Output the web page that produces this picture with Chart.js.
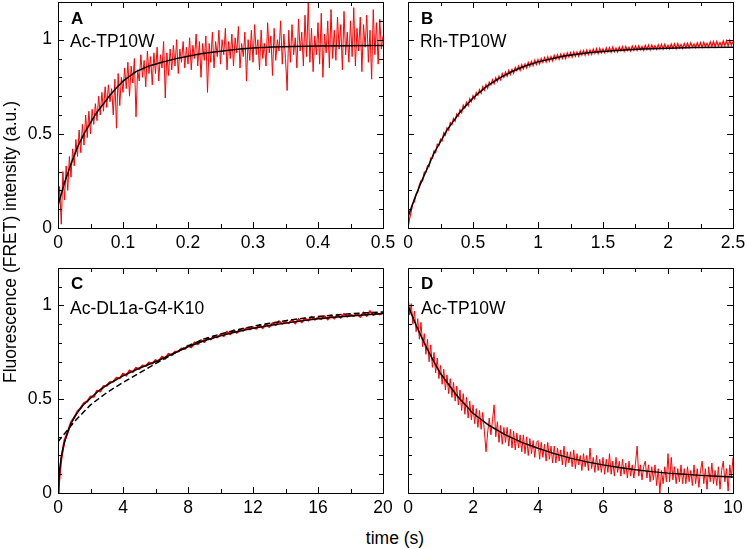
<!DOCTYPE html>
<html>
<head>
<meta charset="utf-8">
<script src="https://cdn.jsdelivr.net/npm/chart.js@4.4.0/dist/chart.umd.min.js"></script>
<style>
  body { margin: 0; background: #fff; }
  #fig { position: relative; width: 747px; height: 549px; font-family: "Liberation Sans", Arial, sans-serif; color: #000; }
  .panel { position: absolute; }
  .txt { position: absolute; font-size: 17.5px; line-height: 18px; white-space: nowrap; }
  .let { position: absolute; font-size: 17px; line-height: 17px; font-weight: bold; }
</style>
</head>
<body>
<div id="fig">
  <div class="panel" style="left:0;top:0;width:400px;height:258px"><canvas id="chartA"></canvas></div>
  <div class="panel" style="left:395px;top:0;width:352px;height:258px"><canvas id="chartB"></canvas></div>
  <div class="panel" style="left:0;top:258px;width:400px;height:262px"><canvas id="chartC"></canvas></div>
  <div class="panel" style="left:395px;top:258px;width:352px;height:262px"><canvas id="chartD"></canvas></div>

  <div class="let" style="left:71px;top:10px">A</div>
  <div class="txt" style="left:70px;top:32px">Ac-TP10W</div>
  <div class="let" style="left:421px;top:10px">B</div>
  <div class="txt" style="left:420px;top:32px">Rh-TP10W</div>
  <div class="let" style="left:71px;top:275px">C</div>
  <div class="txt" style="left:70px;top:299px">Ac-DL1a-G4-K10</div>
  <div class="let" style="left:421px;top:275px">D</div>
  <div class="txt" style="left:421px;top:299px">Ac-TP10W</div>

  <div class="txt" style="left:10px;top:242px;transform:translate(-50%,-50%) rotate(-90deg)">Fluorescence (FRET) intensity (a.u.)</div>
  <div class="txt" style="left:395px;top:538px;transform:translate(-50%,-50%)">time (s)</div>
</div>

<script>
// Panel A: Ac-TP10W, 0 - 0.5 s, sampled every 2.5 ms
const dtA = 0.0025;
const rawA = [
  0.05,0.22,0.02,0.30,0.15,0.33,0.20,0.38,0.27,0.42,
  0.33,0.47,0.38,0.52,0.40,0.55,0.44,0.60,0.48,0.62,
  0.50,0.63,0.55,0.66,0.57,0.70,0.60,0.72,0.62,0.75,
  0.64,0.76,0.67,0.74,0.60,0.79,0.53,0.82,0.65,0.80,
  0.72,0.85,0.74,0.88,0.70,0.86,0.77,0.90,0.59,0.84,
  0.78,0.92,0.80,0.89,0.75,0.94,0.82,0.91,0.76,0.93,
  0.82,0.96,0.78,0.92,0.85,0.99,0.69,0.93,0.81,0.95,
  0.84,0.97,0.86,1.00,0.82,0.95,0.88,0.99,0.85,0.96,
  0.87,1.01,0.84,0.97,0.90,1.03,0.86,0.99,0.80,0.98,
  0.89,1.02,0.72,0.98,0.88,1.04,0.85,0.99,0.91,1.05,
  0.87,1.00,0.92,1.06,0.84,0.99,0.90,1.03,0.86,1.01,
  0.93,1.07,0.85,0.98,0.91,1.04,0.78,1.00,0.89,1.05,
  0.88,1.08,0.92,1.00,0.84,1.05,0.90,0.98,0.86,1.09,
  0.93,1.02,0.81,1.06,0.89,1.00,0.94,1.10,0.87,1.03,
  0.90,0.73,1.05,0.88,1.08,0.92,1.01,0.85,1.11,0.94,
  1.04,0.86,1.13,0.91,1.20,0.88,1.06,0.83,1.02,0.92,
  1.09,0.87,1.14,0.80,1.03,0.93,1.10,0.85,1.16,0.90,
  1.05,0.89,1.12,0.95,1.08,0.84,1.15,0.92,1.04,0.88,
  1.10,0.91,1.17,0.86,1.06,0.94,1.12,0.83,1.08,0.96,
  1.13,0.88,1.05,0.79,1.16,0.92,1.09,0.87,1.11,0.95,
  1.02
];
const fitTA = [0,0.01,0.02,0.03,0.04,0.05,0.06,0.07,0.08,0.09,0.10,0.12,0.14,0.16,0.18,0.20,0.22,0.24,0.26,0.28,0.30,0.33,0.36,0.40,0.45,0.50];
const fitA  = [0.12,0.24,0.34,0.43,0.50,0.56,0.615,0.66,0.705,0.745,0.78,0.83,0.86,0.88,0.898,0.912,0.925,0.935,0.943,0.95,0.956,0.961,0.964,0.967,0.968,0.969];

// Panel B: Rh-TP10W, 0 - 2.5 s, every 12.5 ms
const dtB = 0.0125;
const rawB = [
  0.00,0.05,0.09,0.13,0.14,0.18,0.19,0.23,
  0.251,0.250,0.297,0.297,0.330,0.326,0.372,0.370,
  0.41,0.40,0.445,0.437,0.472,0.463,0.506,0.494,
  0.532,0.52,0.56,0.55,0.582,0.567,0.606,0.594,
  0.628,0.612,0.652,0.637,0.668,0.65,0.687,0.671,
  0.703,0.686,0.72,0.706,0.734,0.716,0.75,0.731,
  0.762,0.742,0.775,0.76,0.787,0.766,0.798,0.779,
  0.806,0.787,0.82,0.80,0.828,0.806,0.837,0.815,
  0.842,0.822,0.853,0.835,0.86,0.837,0.867,0.845,
  0.871,0.85,0.88,0.858,0.885,0.862,0.891,0.868,
  0.894,0.871,0.90,0.88,0.905,0.881,0.909,0.886,
  0.911,0.888,0.917,0.896,0.92,0.895,0.923,0.90,
  0.925,0.90,0.93,0.908,0.932,0.907,0.935,0.912,
  0.935,0.912,0.94,0.918,0.942,0.917,0.945,0.921,
  0.945,0.922,0.95,0.928,0.952,0.926,0.954,0.93,
  0.951,0.93,0.957,0.934,0.958,0.933,0.96,0.936,
  0.956,0.935,0.961,0.94,0.963,0.938,0.964,0.942,
  0.96,0.94,0.966,0.944,0.967,0.943,0.968,0.946,
  0.964,0.944,0.97,0.948,0.971,0.946,0.972,0.95,
  0.968,0.948,0.973,0.951,0.975,0.95,0.976,0.953,
  0.971,0.951,0.977,0.955,0.978,0.953,0.979,0.956,
  0.974,0.954,0.98,0.958,0.981,0.957,0.983,0.96,
  0.977,0.958,0.984,0.961,0.985,0.96,0.986,0.963,
  0.981,0.961,0.988,0.964,0.99,0.963,0.991,0.966,
  0.985,0.965,0.993,0.968,0.994,0.967,0.997,0.97,
  0.99
];
const fitTB = [0,0.05,0.1,0.2,0.3,0.4,0.5,0.6,0.7,0.8,0.9,1.0,1.2,1.4,1.6,1.8,2.0,2.2,2.5];
const fitB  = [0.06,0.155,0.241,0.397,0.52,0.615,0.69,0.749,0.795,0.831,0.86,0.882,0.913,0.932,0.943,0.951,0.955,0.958,0.96];

// Panel C: Ac-DL1a-G4-K10, 0 - 20 s, every 0.2 s
const dtC = 0.2;
const rawC = [
  0.00,0.18,0.282,0.325,0.378,
  0.402,0.436,0.453,0.48,0.488,
  0.515,0.514,0.545,0.542,0.57,
  0.572,0.592,0.594,0.614,0.612,
  0.636,0.627,0.653,0.645,0.667,
  0.662,0.68,0.678,0.695,0.691,
  0.709,0.702,0.727,0.718,0.742,
  0.736,0.753,0.754,0.77,0.768,
  0.786,0.778,0.803,0.794,0.815,
  0.806,0.826,0.82,0.835,0.83,
  0.846,0.837,0.859,0.847,0.866,
  0.855,0.871,0.866,0.879,0.873,
  0.883,0.877,0.895,0.88,0.901,
  0.886,0.905,0.896,0.915,0.902,
  0.912,0.906,0.922,0.905,0.927,
  0.911,0.931,0.92,0.938,0.925,
  0.934,0.928,0.942,0.926,0.947,
  0.931,0.949,0.935,0.954,0.941,
  0.95,0.944,0.955,0.94,0.961,
  0.945,0.969,0.949,0.958,0.953,
  0.962
];
const fitTC = [0,0.05,0.1,0.2,0.3,0.4,0.6,0.8,1,1.5,2,2.5,3,4,5,6,7,8,9,10,11,12,13,14,15,16,17,18,19,20];
const fitC  = [0,0.06,0.12,0.19,0.235,0.27,0.325,0.37,0.405,0.465,0.505,0.545,0.575,0.625,0.665,0.70,0.74,0.78,0.812,0.838,0.86,0.878,0.893,0.906,0.918,0.929,0.937,0.944,0.951,0.958];
const fit1TC = [0,1,2,3,4,5,6,7,8,9,10,11,12,13,14,15,16,17,18,19,20];
const fit1C  = [0.273,0.38,0.47,0.535,0.59,0.64,0.69,0.737,0.785,0.822,0.848,0.87,0.889,0.905,0.919,0.931,0.941,0.949,0.956,0.961,0.966];

// Panel D: Ac-TP10W decay, 0 - 10 s, every 50 ms
const dtD = 0.05;
const rawD = [
  1.06,0.95,1.01,0.90,0.97,0.86,0.93,0.82,0.91,0.78,
  0.85,0.74,0.82,0.70,0.79,0.67,0.75,0.64,0.72,0.61,
  0.68,0.58,0.66,0.55,0.63,0.53,0.61,0.51,0.59,0.49,
  0.57,0.47,0.55,0.44,0.53,0.42,0.51,0.40,0.49,0.39,
  0.47,0.37,0.45,0.35,0.44,0.34,0.43,0.33,0.22,0.32,
  0.40,0.31,0.39,0.47,0.30,0.38,0.27,0.36,0.26,0.35,
  0.27,0.35,0.25,0.34,0.24,0.33,0.23,0.32,0.24,0.31,
  0.22,0.31,0.21,0.30,0.20,0.29,0.21,0.28,0.19,0.27,
  0.28,0.18,0.27,0.19,0.26,0.17,0.27,0.18,0.25,0.16,
  0.25,0.16,0.24,0.17,0.23,0.15,0.25,0.14,0.22,0.16,
  0.22,0.14,0.23,0.13,0.21,0.15,0.20,0.12,0.21,0.14,
  0.20,0.12,0.24,0.13,0.19,0.11,0.20,0.12,0.18,0.11,
  0.19,0.10,0.18,0.11,0.21,0.10,0.17,0.09,0.19,0.11,
  0.17,0.09,0.18,0.10,0.16,0.08,0.17,0.09,0.15,0.08,
  0.16,0.25,0.09,0.15,0.07,0.14,0.17,0.08,0.15,0.06,
  0.14,0.07,0.15,0.04,0.13,0.00,0.12,0.05,0.14,0.06,
  0.21,0.06,0.19,0.07,0.14,0.05,0.13,0.06,0.15,0.05,
  0.13,0.05,0.14,0.06,0.12,0.04,0.15,0.05,0.13,0.03,
  0.12,0.17,0.05,0.13,0.02,0.14,0.06,0.16,0.05,0.12,
  0.04,0.14,0.02,0.12,0.17,0.06,0.13,0.01,0.15,0.08,
  0.19
];
const fitTD = [0,0.25,0.5,0.75,1,1.5,2,2.5,3,3.5,4,4.5,5,5.5,6,6.5,7,7.5,8,8.5,9,9.5,10];
const fitD  = [1.0,0.895,0.80,0.715,0.637,0.52,0.425,0.36,0.31,0.27,0.239,0.21,0.186,0.166,0.15,0.136,0.124,0.114,0.106,0.1,0.094,0.089,0.085];

const yTicks = [0, 0.5, 1];

Chart.defaults.font.family = '"Liberation Sans", Arial, sans-serif';
Chart.defaults.color = '#000';

function sampled(values, dt) {
  return values.map((v, i) => ({ x: i * dt, y: v }));
}
function paired(ts, values) {
  return ts.map((t, i) => ({ x: t, y: values[i] }));
}
const fmt = v => String(Math.round(v * 1000) / 1000);

// box round the plot and ticks pointing inwards on all four sides
const frameTicks = {
  id: 'frameTicks',
  afterDatasetsDraw(chart, args, o) {
    const { ctx, chartArea: a, scales: { x, y } } = chart;
    ctx.save();
    ctx.strokeStyle = '#000';
    ctx.lineWidth = 1;
    ctx.beginPath();
    const nx = Math.round((x.max - x.min) / o.xMinor);
    for (let k = 0; k <= nx; k++) {
      const px = Math.round(x.getPixelForValue(x.min + k * o.xMinor)) + 0.5;
      const len = (k % 2 === 0) ? 6 : 4;
      ctx.moveTo(px, a.bottom); ctx.lineTo(px, a.bottom - len);
      ctx.moveTo(px, a.top); ctx.lineTo(px, a.top + len);
    }
    const ny = Math.round((y.max - y.min) / 0.1);
    for (let k = 0; k <= ny; k++) {
      const py = Math.round(y.getPixelForValue(y.min + k * 0.1)) + 0.5;
      const len = (k % 5 === 0) ? 6 : 4;
      ctx.moveTo(a.left, py); ctx.lineTo(a.left + len, py);
      ctx.moveTo(a.right, py); ctx.lineTo(a.right - len, py);
    }
    ctx.stroke();
    ctx.strokeRect(Math.round(a.left) + 0.5, Math.round(a.top) + 0.5, Math.round(a.width), Math.round(a.height));
    ctx.restore();
  }
};

function panel(id, cfg) {
  const datasets = cfg.fits.map(f => ({
    data: f.data,
    borderColor: '#000',
    borderWidth: 1.5,
    borderDash: f.dash || [],
    pointRadius: 0,
    fill: false
  }));
  datasets.push({
    data: cfg.raw,
    borderColor: '#ff0000',
    borderWidth: cfg.rawWidth,
    pointRadius: 0,
    fill: false
  });

  new Chart(document.getElementById(id), {
    type: 'line',
    data: { datasets },
    plugins: [frameTicks],
    options: {
      responsive: true,
      maintainAspectRatio: false,
      animation: false,
      parsing: false,
      layout: { padding: cfg.padding },
      plugins: {
        legend: { display: false },
        tooltip: { enabled: false },
        frameTicks: { xMinor: cfg.xMinor }
      },
      scales: {
        x: {
          type: 'linear',
          min: 0,
          max: cfg.xMax,
          grid: { display: false, drawTicks: false },
          border: { display: false },
          ticks: { stepSize: cfg.xStep, padding: 5, font: { size: 17.5 }, maxRotation: 0, autoSkip: false, includeBounds: false, callback: fmt },
          afterFit(s) { s.height = cfg.xHeight; s.paddingLeft = 0; s.paddingRight = 0; }
        },
        y: {
          type: 'linear',
          min: 0,
          max: 1.2,
          grid: { display: false, drawTicks: false },
          border: { display: false },
          afterBuildTicks(s) { s.ticks = yTicks.map(v => ({ value: v })); },
          ticks: { display: cfg.yLabels, padding: 6, font: { size: 17.5 }, callback: fmt },
          afterFit(s) { s.width = cfg.yWidth; s.paddingTop = 0; s.paddingBottom = 0; }
        }
      }
    }
  });
}

panel('chartA', {
  raw: sampled(rawA, dtA), rawWidth: 1,
  fits: [{ data: paired(fitTA, fitA) }],
  xMax: 0.5, xStep: 0.1, xMinor: 0.05,
  padding: { left: 0, top: 2, right: 17, bottom: 0 },
  xHeight: 30, yWidth: 58, yLabels: true
});

panel('chartB', {
  raw: sampled(rawB, dtB), rawWidth: 1.2,
  fits: [{ data: paired(fitTB, fitB) }],
  xMax: 2.5, xStep: 0.5, xMinor: 0.25,
  padding: { left: 0, top: 2, right: 14, bottom: 0 },
  xHeight: 30, yWidth: 13, yLabels: false
});

panel('chartC', {
  raw: sampled(rawC, dtC), rawWidth: 2,
  fits: [{ data: paired(fitTC, fitC) }, { data: paired(fit1TC, fit1C), dash: [6, 3] }],
  xMax: 20, xStep: 4, xMinor: 2,
  padding: { left: 0, top: 10, right: 17, bottom: 0 },
  xHeight: 27, yWidth: 58, yLabels: true
});

panel('chartD', {
  raw: sampled(rawD, dtD), rawWidth: 1,
  fits: [{ data: paired(fitTD, fitD) }],
  xMax: 10, xStep: 2, xMinor: 1,
  padding: { left: 0, top: 10, right: 14, bottom: 0 },
  xHeight: 27, yWidth: 13, yLabels: false
});
</script>
</body>
</html>
